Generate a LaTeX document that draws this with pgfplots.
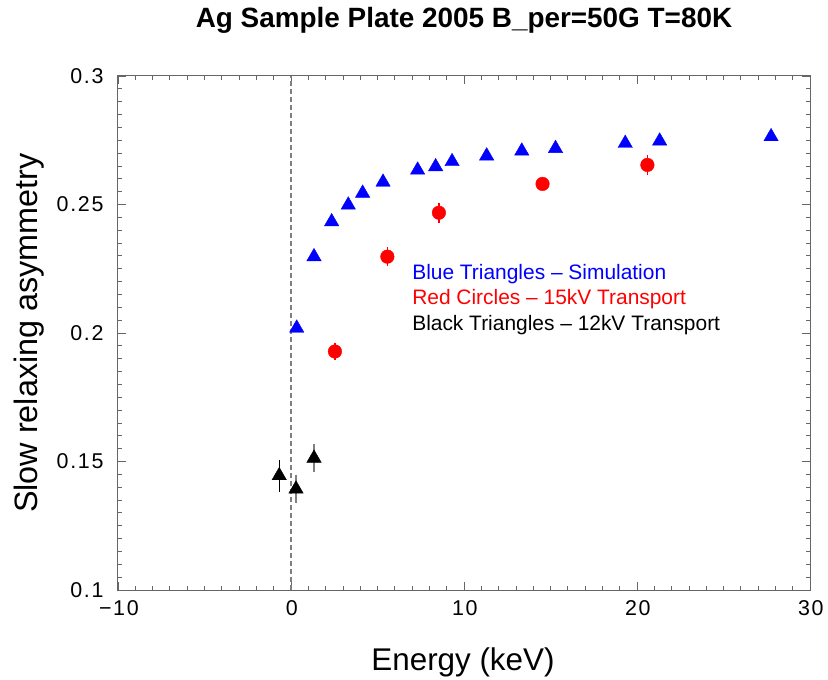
\documentclass[border=0pt]{standalone}
\usepackage{pgfplots}
\pgfplotsset{compat=1.18}
\usepackage{fontspec}
\setmainfont{Liberation Sans}
\newfontfamily\tickfont[LetterSpace=8]{Liberation Sans}

\begin{document}
\begin{tikzpicture}
\begin{axis}[
  name=ax, at={(0,0)}, anchor=south west,
  scale only axis, width=692bp, height=514bp,
  xmin=-10, xmax=30, ymin=0.1, ymax=0.3,
  xtick={-10,0,10,20,30}, xticklabels={−10,0,10,20,30},
  ytick={0.1,0.15,0.2,0.25,0.3}, yticklabels={0.1,0.15,0.2,0.25,0.3},
  minor x tick num=9, minor y tick num=9,
  tick align=inside, major tick length=8bp, minor tick length=4bp,
  axis line style={black!60, line width=1bp},
  every tick/.style={black!60, line width=0.8bp},
  ticklabel style={font=\tickfont\fontsize{21.5}{24}\selectfont, text=black},
  xticklabel style={yshift=-7.5bp, xshift=0.9bp},
  yticklabel style={xshift=-11bp},
  clip=false,
]
\addplot[gray, line width=1.3bp, dash pattern=on 5bp off 3bp] coordinates {(0,0.1) (0,0.3)};

% Blue triangles - simulation
\addplot[only marks, mark=triangle*, mark size=8.3bp, color=blue, fill=blue] table {
x y
0.33 0.2019
1.33 0.2297
2.35 0.2433
3.31 0.2498
4.14 0.2544
5.32 0.2587
7.32 0.2634
8.36 0.2647
9.31 0.2667
11.31 0.2689
13.34 0.2708
15.29 0.2718
19.32 0.2738
21.31 0.2747
27.75 0.2764
};

% Red circles - 15kV transport
\addplot[only marks, mark=*, mark size=6.8bp, color=red, fill=red,
  error bars/.cd, y dir=both, y explicit, error mark=none,
  error bar style={line width=1.3bp, red}] table[x=x, y=y, y error=e] {
x y e
2.54 0.1928 0.0035
5.57 0.2297 0.0037
8.55 0.2468 0.0039
14.54 0.2580 0.0020
20.60 0.2654 0.0040
};

% Black triangles - 12kV transport
\addplot[only marks, mark=triangle*, mark size=8.3bp, color=black, fill=black,
  error bars/.cd, y dir=both, y explicit, error mark=none,
  error bar style={line width=1.3bp, black}] table[x=x, y=y, y error=e] {
x y e
-0.68 0.1445 0.0062
};
\addplot[only marks, mark=triangle*, mark size=8.3bp, color=black, fill=black,
  error bars/.cd, y dir=both, y explicit, error mark=none,
  error bar style={line width=1.3bp, gray}] table[x=x, y=y, y error=e] {
x y e
0.29 0.1393 0.0055
1.33 0.1513 0.0055
};

\node[anchor=base west, inner sep=0pt, text=blue, font=\fontsize{21}{24}\selectfont] at (axis cs:7.0,0.2210) {Blue Triangles – Simulation};
\node[anchor=base west, inner sep=0pt, text=red, font=\fontsize{21}{24}\selectfont] at (axis cs:7.0,0.2109) {Red Circles – 15kV Transport};
\node[anchor=base west, inner sep=0pt, text=black, font=\fontsize{21}{24}\selectfont] at (axis cs:7.0,0.2008) {Black Triangles – 12kV Transport};
\end{axis}

\node[anchor=base, inner sep=0pt, font=\bfseries\fontsize{28}{30}\selectfont] at ([yshift=48bp]ax.north) {Ag Sample Plate 2005 B\_per=50G T=80K};
\node[anchor=base, inner sep=0pt, font=\fontsize{31.5}{34}\selectfont] at ([yshift=-80bp, xshift=-1bp]ax.south) {Energy (keV)};
\node[anchor=base, inner sep=0pt, rotate=90, font=\fontsize{32.5}{34}\selectfont] at ([xshift=-80bp]ax.west) {Slow relaxing asymmetry};

\path[use as bounding box] ([shift={(-118bp,-90bp)}]ax.south west) rectangle ([shift={(18bp,76bp)}]ax.north east);
\end{tikzpicture}
\end{document}
